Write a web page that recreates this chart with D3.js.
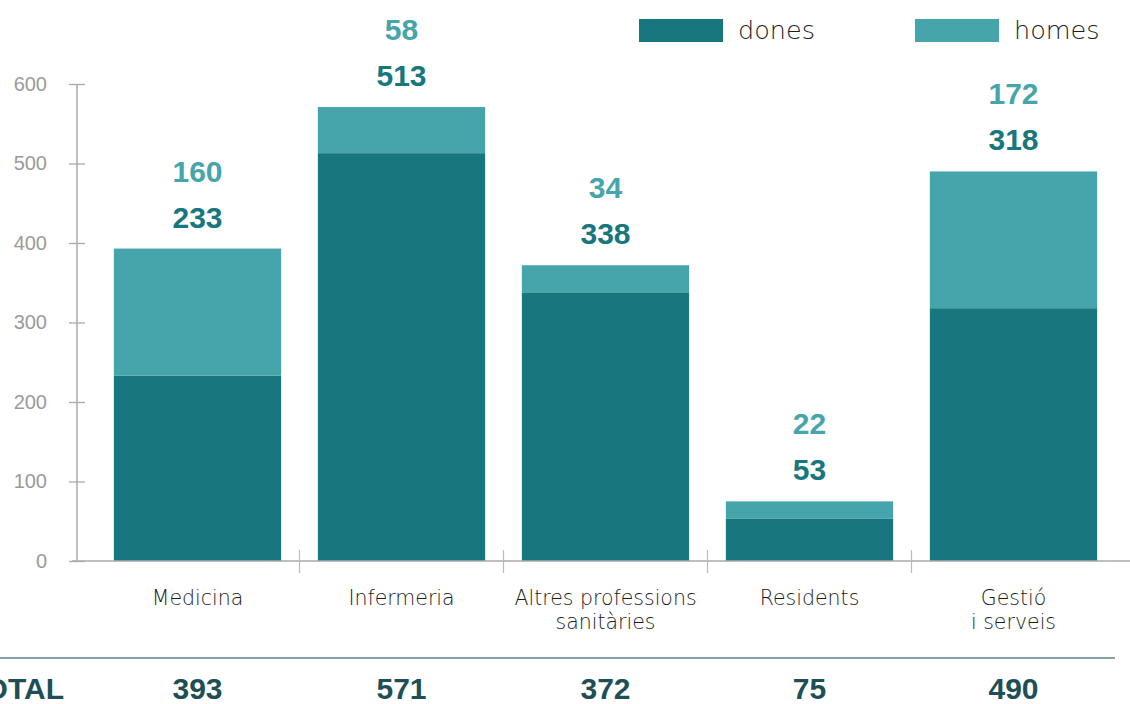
<!DOCTYPE html>
<html><head><meta charset="utf-8">
<script src="https://cdn.jsdelivr.net/npm/d3@7"></script>
<style>
html,body{margin:0;padding:0;background:#fff;overflow:hidden}
svg{display:block}
</style></head>
<body>
<svg id="chart" width="1130" height="704"></svg>
<script>
const categories = [["Medicina"], ["Infermeria"], ["Altres professions", "sanitàries"], ["Residents"], ["Gestió", "i serveis"]];
const dones = [233, 513, 338, 53, 318];
const homes = [160, 58, 34, 22, 172];
const totals = [393, 571, 372, 75, 490];
const yTicks = [0, 100, 200, 300, 400, 500, 600];
const seriesNames = ["dones", "homes"];

const colDones = "#17767e", colHomes = "#46a5aa";
const svg = d3.select("#chart");
const numFont = "'Liberation Sans', Arial, sans-serif";
const txtFont = "'DejaVu Sans', sans-serif";

const keys = categories.map(c => c.join(" "));
const x = d3.scaleBand().domain(keys).range([95.5, 1115.5]).paddingInner(0.18).paddingOuter(0.09);
const y = d3.scaleLinear().domain([0, 600]).range([561, 84]);

// y axis
const yAxis = svg.append("g").attr("transform", "translate(77,0)")
  .call(d3.axisLeft(y).tickValues(yTicks).tickSize(8).tickPadding(22));
yAxis.select(".domain").remove();
yAxis.selectAll(".tick line").attr("x1", -8).attr("x2", 8).attr("stroke", "#aaa").attr("stroke-width", 1.3);
yAxis.selectAll(".tick text").attr("fill", "#9a9a9a").style("font-family", numFont).style("font-size", "20px");
svg.append("line").attr("x1", 77).attr("x2", 77).attr("y1", y(600)).attr("y2", y(0))
  .attr("stroke", "#aaa").attr("stroke-width", 1.5);

// stacks
const data = keys.map((k, i) => ({key: k, dones: dones[i], homes: homes[i]}));
const stack = d3.stack().keys(seriesNames)(data);
const colors = {dones: colDones, homes: colHomes};
svg.append("g").selectAll("g").data(stack).join("g").attr("fill", d => colors[d.key])
  .selectAll("rect").data(d => d).join("rect")
  .attr("x", d => x(d.data.key)).attr("width", x.bandwidth())
  .attr("y", d => y(d[1])).attr("height", d => y(d[0]) - y(d[1]));

// x axis line
svg.append("line").attr("x1", 72).attr("x2", 1130).attr("y1", 561).attr("y2", 561)
  .attr("stroke", "#aaa").attr("stroke-width", 1.5);
// separators
keys.slice(0, -1).forEach(k => {
  const sx = x(k) + x.bandwidth() + x.step() * x.paddingInner() / 2;
  svg.append("line").attr("x1", sx).attr("x2", sx).attr("y1", 550).attr("y2", 573)
    .attr("stroke", "#bbb").attr("stroke-width", 1.2);
});

// category labels
categories.forEach((c, i) => {
  const cx = x(keys[i]) + x.bandwidth() / 2;
  const t = svg.append("text").attr("text-anchor", "middle").attr("fill", "#1a1a1a")
    .style("font-family", txtFont).style("font-size", "20.5px").style("font-weight", 200);
  c.forEach((line, j) => t.append("tspan").attr("x", cx).attr("y", 605 + j * 24).text(line));
});

// value labels
const numSize = "30px";
data.forEach((d, i) => {
  const cx = x(d.key) + x.bandwidth() / 2;
  const top = y(d.dones + d.homes);
  svg.append("text").attr("x", cx).attr("y", top - 21).attr("text-anchor", "middle")
    .attr("fill", colDones).style("font-family", numFont).style("font-weight", "bold").style("font-size", numSize)
    .text(dones[i]);
  svg.append("text").attr("x", cx).attr("y", top - 67).attr("text-anchor", "middle")
    .attr("fill", colHomes).style("font-family", numFont).style("font-weight", "bold").style("font-size", numSize)
    .text(homes[i]);
});

// total row
svg.append("line").attr("x1", 0).attr("x2", 1115).attr("y1", 658).attr("y2", 658)
  .attr("stroke", "#5f7f88").attr("stroke-width", 1.5);
svg.append("text").attr("x", 64).attr("y", 699).attr("text-anchor", "end").attr("fill", "#1e4f56")
  .style("font-family", numFont).style("font-weight", "bold").style("font-size", numSize).text("TOTAL");
totals.forEach((t, i) => {
  svg.append("text").attr("x", x(keys[i]) + x.bandwidth() / 2).attr("y", 699).attr("text-anchor", "middle")
    .attr("fill", "#1e4f56").style("font-family", numFont).style("font-weight", "bold").style("font-size", numSize).text(t);
});

// legend
const legX = [639, 915];
seriesNames.forEach((s, i) => {
  svg.append("rect").attr("x", legX[i]).attr("y", 19).attr("width", 84).attr("height", 23).attr("fill", colors[s]);
  svg.append("text").attr("x", legX[i] + 99).attr("y", 39).attr("fill", "#1a1a1a")
    .style("font-family", txtFont).style("font-size", "25.5px").style("font-weight", 200).text(s);
});
</script>
</body></html>
